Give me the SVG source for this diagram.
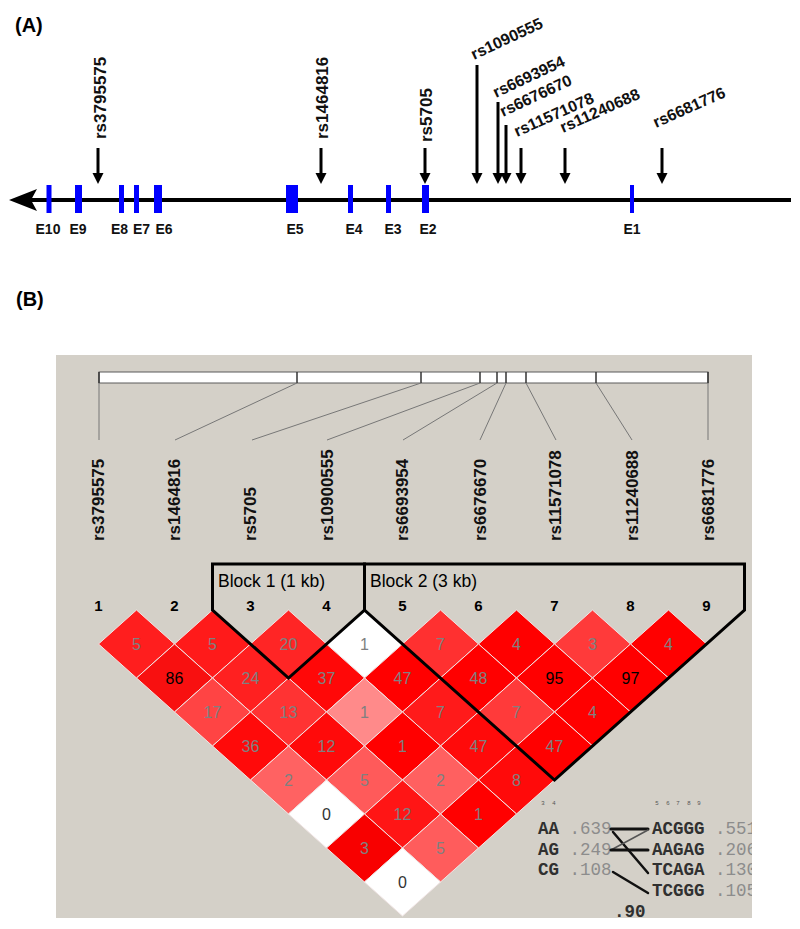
<svg xmlns="http://www.w3.org/2000/svg" xmlns:xlink="http://www.w3.org/1999/xlink" width="800" height="929" viewBox="0 0 800 929">
<style>
.lbl{font-family:"Liberation Sans",Arial,sans-serif;font-weight:bold;fill:#000}
.ex{font-family:"Liberation Sans",Arial,sans-serif;font-size:14px;font-weight:bold;fill:#111;text-anchor:middle}
.exon{fill:#0000ff}
.arr{stroke:#000;stroke-width:3;fill:none}
.snp{font-family:"Liberation Sans",Arial,sans-serif;font-weight:bold;font-size:17px;fill:#111}
.slant{font-family:"Liberation Sans",Arial,sans-serif;font-weight:bold;font-size:16px;fill:#111}
.blab{font-family:"Liberation Sans",Arial,sans-serif;font-weight:bold;font-size:17px;fill:#111}
.num{font-family:"Liberation Sans",Arial,sans-serif;font-weight:bold;font-size:15px;fill:#000;text-anchor:middle}
.blk{font-family:"Liberation Sans",Arial,sans-serif;font-size:17.5px;fill:#000}
.conn{stroke:#777;stroke-width:1;fill:none}
.cell{stroke:#f2e6e6;stroke-width:1}
.cv{font-family:"Liberation Sans",Arial,sans-serif;font-size:16px;fill:#808080;text-anchor:middle}
.cvb{font-family:"Liberation Sans",Arial,sans-serif;font-size:16px;fill:#000;text-anchor:middle}
.cvw{font-family:"Liberation Sans",Arial,sans-serif;font-size:16px;fill:#333;text-anchor:middle}
.hap{font-family:"Liberation Mono","Courier New",monospace;font-size:17.5px;font-weight:bold;fill:#303030}
.hn{fill:#8c8c8c;font-weight:normal}
.tiny{font-family:"Liberation Sans",Arial,sans-serif;font-size:6px;fill:#555;text-anchor:middle}
</style>
<defs>
<path id="ah" d="M-5.5,-11 L5.5,-11 L0,0 Z" fill="#000"/>
<path id="dm" d="M0,-34 L38,0 L0,34 L-38,0 Z"/>
<clipPath id="pc"><rect x="56" y="355" width="696" height="563"/></clipPath>
</defs>
<rect x="0" y="0" width="800" height="929" fill="#fff"/>

<!-- Panel A -->
<g id="panelA">
<text class="lbl" x="15" y="32" font-size="20">(A)</text>
<g id="gene">
<line x1="26" y1="200" x2="791" y2="200" stroke="#000" stroke-width="4"/>
<path d="M9,200 L37,189 L31,200 L37,211 Z" fill="#000"/>
<rect class="exon" x="46.5" y="185" width="5" height="28"/>
<rect class="exon" x="75" y="185" width="7" height="28"/>
<rect class="exon" x="119" y="185" width="5" height="28"/>
<rect class="exon" x="134" y="185" width="5" height="28"/>
<rect class="exon" x="154" y="185" width="8" height="28"/>
<rect class="exon" x="286" y="185" width="12" height="28"/>
<rect class="exon" x="348" y="185" width="5" height="28"/>
<rect class="exon" x="386" y="185" width="5" height="28"/>
<rect class="exon" x="422" y="185" width="7" height="28"/>
<rect class="exon" x="630" y="185" width="4" height="28"/>
<text class="ex" x="48" y="234">E10</text>
<text class="ex" x="78" y="234">E9</text>
<text class="ex" x="119.5" y="234">E8</text>
<text class="ex" x="141.5" y="234">E7</text>
<text class="ex" x="164" y="234">E6</text>
<text class="ex" x="295" y="234">E5</text>
<text class="ex" x="354" y="234">E4</text>
<text class="ex" x="393" y="234">E3</text>
<text class="ex" x="428" y="234">E2</text>
<text class="ex" x="632" y="234">E1</text>
</g>
<g id="snpArrows">
<line class="arr" x1="98" y1="148" x2="98" y2="175"/><use xlink:href="#ah" x="98" y="184"/>
<line class="arr" x1="321" y1="148" x2="321" y2="175"/><use xlink:href="#ah" x="321" y="184"/>
<line class="arr" x1="425" y1="148" x2="425" y2="175"/><use xlink:href="#ah" x="425" y="184"/>
<line class="arr" x1="477" y1="65" x2="477" y2="175"/><use xlink:href="#ah" x="477" y="184"/>
<line class="arr" x1="498" y1="102" x2="498" y2="175"/><use xlink:href="#ah" x="498" y="184"/>
<line class="arr" x1="506" y1="125" x2="506" y2="175"/><use xlink:href="#ah" x="506" y="184"/>
<line class="arr" x1="521" y1="148" x2="521" y2="175"/><use xlink:href="#ah" x="521" y="184"/>
<line class="arr" x1="565" y1="148" x2="565" y2="175"/><use xlink:href="#ah" x="565" y="184"/>
<line class="arr" x1="662" y1="148" x2="662" y2="175"/><use xlink:href="#ah" x="662" y="184"/>
</g>
<g id="snpLabelsA">
<text class="snp" transform="translate(106,139) rotate(-90)">rs3795575</text>
<text class="snp" transform="translate(328,139) rotate(-90)">rs1464816</text>
<text class="snp" transform="translate(432,142) rotate(-90)">rs5705</text>
<text class="slant" transform="translate(474,60) rotate(-25)">rs1090555</text>
<text class="slant" transform="translate(496,98) rotate(-25)">rs6693954</text>
<text class="slant" transform="translate(503,117) rotate(-25)">rs6676670</text>
<text class="slant" transform="translate(517,137) rotate(-24)">rs11571078</text>
<text class="slant" transform="translate(563,133) rotate(-24)">rs11240688</text>
<text class="slant" transform="translate(656,128) rotate(-24)">rs6681776</text>
</g>
</g>

<!-- Panel B -->
<text class="lbl" x="16" y="306" font-size="20">(B)</text>
<g id="panelB">
<rect x="56" y="355" width="696" height="563" fill="#d4d0c8"/>
<g id="mapBar">
<rect x="99" y="372" width="609" height="11" fill="#fff" stroke="#5a5a5a" stroke-width="1"/>
<g stroke="#333" stroke-width="1.5">
<line x1="297" y1="372" x2="297" y2="383"/>
<line x1="421" y1="372" x2="421" y2="383"/>
<line x1="480" y1="372" x2="480" y2="383"/>
<line x1="497" y1="372" x2="497" y2="383"/>
<line x1="506" y1="372" x2="506" y2="383"/>
<line x1="526" y1="372" x2="526" y2="383"/>
<line x1="596" y1="372" x2="596" y2="383"/>
<line x1="99" y1="372" x2="99" y2="383"/>
<line x1="708" y1="372" x2="708" y2="383"/>
</g>
</g>
<g id="connectors">
<line class="conn" x1="99" y1="383" x2="99" y2="440"/>
<line class="conn" x1="297" y1="383" x2="175" y2="440"/>
<line class="conn" x1="421" y1="383" x2="252" y2="440"/>
<line class="conn" x1="480" y1="383" x2="327" y2="440"/>
<line class="conn" x1="497" y1="383" x2="403" y2="440"/>
<line class="conn" x1="506" y1="383" x2="480" y2="440"/>
<line class="conn" x1="526" y1="383" x2="556" y2="440"/>
<line class="conn" x1="596" y1="383" x2="632" y2="440"/>
<line class="conn" x1="708" y1="383" x2="708" y2="440"/>
</g>
<g id="markerNames">
<text class="blab" transform="translate(104,541) rotate(-90)">rs3795575</text>
<text class="blab" transform="translate(180,541) rotate(-90)">rs1464816</text>
<text class="blab" transform="translate(256,541) rotate(-90)">rs5705</text>
<text class="blab" transform="translate(333,541) rotate(-90)">rs10900555</text>
<text class="blab" transform="translate(408,541) rotate(-90)">rs6693954</text>
<text class="blab" transform="translate(486,541) rotate(-90)">rs6676670</text>
<text class="blab" transform="translate(561,541) rotate(-90)">rs11571078</text>
<text class="blab" transform="translate(638,541) rotate(-90)">rs11240688</text>
<text class="blab" transform="translate(714,541) rotate(-90)">rs6681776</text>
</g>
<g id="markerNumbers">
<text class="num" x="98.5" y="611">1</text>
<text class="num" x="174.5" y="611">2</text>
<text class="num" x="250.5" y="611">3</text>
<text class="num" x="326.5" y="611">4</text>
<text class="num" x="402.5" y="611">5</text>
<text class="num" x="478.5" y="611">6</text>
<text class="num" x="554.5" y="611">7</text>
<text class="num" x="630.5" y="611">8</text>
<text class="num" x="706.5" y="611">9</text>
</g>
<g id="ldCells" class="cell">
<use xlink:href="#dm" x="136.5" y="644" fill="#ff1e1e"/>
<use xlink:href="#dm" x="212.5" y="644" fill="#ff1a1a"/>
<use xlink:href="#dm" x="288.5" y="644" fill="#ff2525"/>
<use xlink:href="#dm" x="364.5" y="644" fill="#ffffff"/>
<use xlink:href="#dm" x="440.5" y="644" fill="#ff3030"/>
<use xlink:href="#dm" x="516.5" y="644" fill="#ff0000"/>
<use xlink:href="#dm" x="592.5" y="644" fill="#ff3a3a"/>
<use xlink:href="#dm" x="668.5" y="644" fill="#ff0000"/>
<use xlink:href="#dm" x="174.5" y="678" fill="#f81010"/>
<use xlink:href="#dm" x="250.5" y="678" fill="#ff2020"/>
<use xlink:href="#dm" x="326.5" y="678" fill="#ff0808"/>
<use xlink:href="#dm" x="402.5" y="678" fill="#ff0000"/>
<use xlink:href="#dm" x="478.5" y="678" fill="#ff0000"/>
<use xlink:href="#dm" x="554.5" y="678" fill="#ff0000"/>
<use xlink:href="#dm" x="630.5" y="678" fill="#ff0000"/>
<use xlink:href="#dm" x="212.5" y="712" fill="#ff4444"/>
<use xlink:href="#dm" x="288.5" y="712" fill="#ff3333"/>
<use xlink:href="#dm" x="364.5" y="712" fill="#ff8a8a"/>
<use xlink:href="#dm" x="440.5" y="712" fill="#ff1a1a"/>
<use xlink:href="#dm" x="516.5" y="712" fill="#ff3a3a"/>
<use xlink:href="#dm" x="592.5" y="712" fill="#ff0000"/>
<use xlink:href="#dm" x="250.5" y="746" fill="#ff0a0a"/>
<use xlink:href="#dm" x="326.5" y="746" fill="#ff0a0a"/>
<use xlink:href="#dm" x="402.5" y="746" fill="#ff0000"/>
<use xlink:href="#dm" x="478.5" y="746" fill="#ff0a0a"/>
<use xlink:href="#dm" x="554.5" y="746" fill="#ff0000"/>
<use xlink:href="#dm" x="288.5" y="780" fill="#ff6262"/>
<use xlink:href="#dm" x="364.5" y="780" fill="#ff5a5a"/>
<use xlink:href="#dm" x="440.5" y="780" fill="#ff6060"/>
<use xlink:href="#dm" x="516.5" y="780" fill="#ff0a0a"/>
<use xlink:href="#dm" x="326.5" y="814" fill="#ffffff"/>
<use xlink:href="#dm" x="402.5" y="814" fill="#ff1515"/>
<use xlink:href="#dm" x="478.5" y="814" fill="#ff0000"/>
<use xlink:href="#dm" x="364.5" y="848" fill="#f80000"/>
<use xlink:href="#dm" x="440.5" y="848" fill="#ff5c5c"/>
<use xlink:href="#dm" x="402.5" y="882" fill="#ffffff"/>
</g>
<g id="ldValues">
<text class="cv" x="136.5" y="650">5</text>
<text class="cv" x="212.5" y="650">5</text>
<text class="cv" x="288.5" y="650">20</text>
<text class="cv" x="364.5" y="650">1</text>
<text class="cv" x="440.5" y="650">7</text>
<text class="cv" x="516.5" y="650">4</text>
<text class="cv" x="592.5" y="650">3</text>
<text class="cv" x="668.5" y="650">4</text>
<text class="cvb" x="174.5" y="684">86</text>
<text class="cv" x="250.5" y="684">24</text>
<text class="cv" x="326.5" y="684">37</text>
<text class="cv" x="402.5" y="684">47</text>
<text class="cv" x="478.5" y="684">48</text>
<text class="cvb" x="554.5" y="684">95</text>
<text class="cvb" x="630.5" y="684">97</text>
<text class="cv" x="212.5" y="718">17</text>
<text class="cv" x="288.5" y="718">13</text>
<text class="cv" x="364.5" y="718">1</text>
<text class="cv" x="440.5" y="718">7</text>
<text class="cv" x="516.5" y="718">7</text>
<text class="cv" x="592.5" y="718">4</text>
<text class="cv" x="250.5" y="752">36</text>
<text class="cv" x="326.5" y="752">12</text>
<text class="cv" x="402.5" y="752">1</text>
<text class="cv" x="478.5" y="752">47</text>
<text class="cv" x="554.5" y="752">47</text>
<text class="cv" x="288.5" y="786">2</text>
<text class="cv" x="364.5" y="786">5</text>
<text class="cv" x="440.5" y="786">2</text>
<text class="cv" x="516.5" y="786">8</text>
<text class="cvw" x="326.5" y="820">0</text>
<text class="cv" x="402.5" y="820">12</text>
<text class="cv" x="478.5" y="820">1</text>
<text class="cv" x="364.5" y="854">3</text>
<text class="cv" x="440.5" y="854">5</text>
<text class="cvw" x="402.5" y="888">0</text>
</g>
<g id="block1">
<path d="M212.5,564 L364.5,564 L364.5,610 L288.5,678 L212.5,610 Z" fill="none" stroke="#000" stroke-width="3" stroke-linejoin="miter"/>
<text class="blk" x="218" y="587">Block 1 (1 kb)</text>
</g>
<g id="block2">
<path d="M364.5,564 L744.5,564 L744.5,610 L554.5,780 L364.5,610 Z" fill="none" stroke="#000" stroke-width="3" stroke-linejoin="miter"/>
<text class="blk" x="370" y="587">Block 2 (3 kb)</text>
</g>
<g id="haplotypes" clip-path="url(#pc)">
<text class="tiny" x="543" y="805">3</text>
<text class="tiny" x="554" y="805">4</text>
<text class="tiny" x="657" y="805">5</text>
<text class="tiny" x="668" y="805">6</text>
<text class="tiny" x="678" y="805">7</text>
<text class="tiny" x="689" y="805">8</text>
<text class="tiny" x="699" y="805">9</text>
<text class="hap" x="538" y="834">AA<tspan class="hn"> .639</tspan></text>
<text class="hap" x="538" y="855">AG<tspan class="hn"> .249</tspan></text>
<text class="hap" x="538" y="875">CG<tspan class="hn"> .108</tspan></text>
<text class="hap" x="652" y="834">ACGGG<tspan class="hn"> .551</tspan></text>
<text class="hap" x="652" y="855">AAGAG<tspan class="hn"> .206</tspan></text>
<text class="hap" x="652" y="875">TCAGA<tspan class="hn"> .130</tspan></text>
<text class="hap" x="652" y="896">TCGGG<tspan class="hn"> .105</tspan></text>
<text class="hap" x="614" y="917">.90</text>
<g stroke-linecap="round">
<line x1="611" y1="829" x2="648" y2="829" stroke="#111" stroke-width="3"/>
<line x1="613" y1="832" x2="648" y2="873" stroke="#111" stroke-width="2.5"/>
<line x1="611" y1="850" x2="648" y2="830" stroke="#555" stroke-width="1.5"/>
<line x1="611" y1="850" x2="648" y2="850" stroke="#111" stroke-width="3"/>
<line x1="613" y1="872" x2="648" y2="893" stroke="#111" stroke-width="2.5"/>
</g>
</g>
</g>
</svg>
